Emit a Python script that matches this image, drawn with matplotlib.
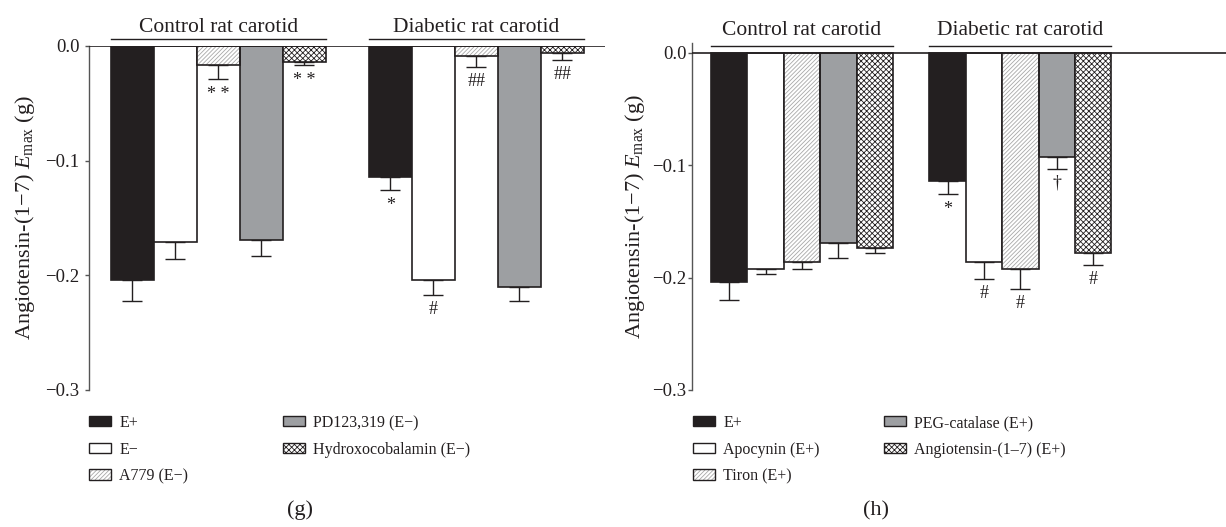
import matplotlib
matplotlib.use("Agg")
import matplotlib.pyplot as plt
from matplotlib.patches import Patch
import numpy as np

plt.rcParams['font.family'] = ['Liberation Serif', 'DejaVu Serif']
plt.rcParams['mathtext.fontset'] = 'custom'
plt.rcParams['mathtext.rm'] = 'Liberation Serif'
plt.rcParams['mathtext.it'] = 'Liberation Serif:italic'
plt.rcParams['hatch.linewidth'] = 0.6

# ---------------- data ----------------
groups = ["Control rat carotid", "Diabetic rat carotid"]

g_labels = ["E+", "E\u2212", "A779 (E\u2212)", "PD123,319 (E\u2212)", "Hydroxocobalamin (E\u2212)"]
g_control = [-0.204, -0.171, -0.017, -0.169, -0.014]
g_control_err = [0.018, 0.015, 0.012, 0.014, 0.003]
g_diabetic = [-0.114, -0.204, -0.009, -0.210, -0.006]
g_diabetic_err = [0.012, 0.013, 0.009, 0.0125, 0.006]
g_control_sig = ["", "", "* *", "", "* *"]
g_diabetic_sig = ["*", "#", "##", "", "##"]

h_labels = ["E+", "Apocynin (E+)", "Tiron (E+)", "PEG-catalase (E+)", "Angiotensin-(1\u20137) (E+)"]
h_control = [-0.204, -0.192, -0.186, -0.169, -0.174]
h_control_err = [0.016, 0.005, 0.006, 0.014, 0.004]
h_diabetic = [-0.114, -0.186, -0.192, -0.093, -0.178]
h_diabetic_err = [0.012, 0.015, 0.018, 0.010, 0.011]
h_control_sig = ["", "", "", "", ""]
h_diabetic_sig = ["*", "#", "#", "\u2020", "#"]

yticks = [0.0, -0.1, -0.2, -0.3]
ytick_labels = ["0.0", "\u22120.1", "\u22120.2", "\u22120.3"]

# ---------------- styles ----------------
facecolors = ['#231f20', 'white', 'white', '#9d9fa2', 'white']
hatches = [None, None, '////////', None, 'xxxxxx']
hatchcolors = ['#231f20', '#231f20', '#a8a8a8', '#231f20', '#231f20']
outline = '#231f20'

W, H = 1226, 527
fig = plt.figure(figsize=(W / 100, H / 100), dpi=100)


def px_ax(x0, y0, x1, y1):
    return fig.add_axes([x0 / W, 1 - y1 / H, (x1 - x0) / W, (y1 - y0) / H])


def make_handle(i):
    base = Patch(facecolor=facecolors[i], edgecolor=hatchcolors[i] if hatches[i] else outline,
                 hatch=hatches[i], linewidth=0 if hatches[i] else 1.0)
    if hatches[i]:
        edge = Patch(facecolor='none', edgecolor=outline, linewidth=1.0)
        return (base, edge)
    return base


def draw_panel(ax, labels, series, errs, sigs, ylim_top, xlim, lab_x, leg_cols_px,
               leg_top_px, grp_text_y, tick_pad):
    ax.set_xlim(*xlim)
    ax.set_ylim(-0.3, ylim_top)
    for gi, (vals, es, ss) in enumerate(zip(series, errs, sigs)):
        xs = np.arange(len(vals)) + gi * 6
        for i, (x, v, e, s) in enumerate(zip(xs, vals, es, ss)):
            if hatches[i]:
                ax.bar(x, v, width=1.0, color=facecolors[i], hatch=hatches[i],
                       edgecolor=hatchcolors[i], linewidth=0, zorder=2)
                ax.bar(x, v, width=1.0, fill=False, edgecolor=outline, linewidth=1.2, zorder=3)
            else:
                ax.bar(x, v, width=1.0, color=facecolors[i], edgecolor=outline,
                       linewidth=1.2, zorder=2)
            ax.errorbar(x, v, yerr=[[e], [0]], fmt='none', ecolor='#231f20',
                        elinewidth=1.0, capsize=7.5, capthick=1.0, zorder=1)
            if s:
                ax.annotate(s, xy=(x, v - e), xytext=(0, -4.5), textcoords='offset points',
                            ha='center', va='top', fontsize=13, color='#231f20')
        # group line and label
        x0, x1 = xs[0] - 0.5, xs[-1] + 0.5
        ax.plot([x0, x1], [0.006, 0.006], color='#231f20', lw=1.0, clip_on=False)
        ax.text((x0 + x1) / 2, grp_text_y, groups[gi], ha='center', va='baseline',
                fontsize=15.5, color='#231f20', clip_on=False)
    ax.axhline(0, color='#231f20', lw=1.2, zorder=4)
    for sp in ['top', 'right', 'bottom']:
        ax.spines[sp].set_visible(False)
    ax.spines['left'].set_color('#555555')
    ax.spines['left'].set_linewidth(1.0)
    ax.set_xticks([])
    ax.set_yticks(yticks)
    ax.set_yticklabels(ytick_labels, fontsize=13.5)
    ax.tick_params(axis='y', direction='out', length=3, width=1.0, pad=tick_pad,
                   color='#555555', labelcolor='#231f20')
    ax.set_ylabel("Angiotensin-(1\u22127) $E_{\\mathrm{max}}$ (g)", fontsize=16,
                  color='#231f20')
    ax.yaxis.set_label_coords(lab_x, 0.5)

    handles = [make_handle(i) for i in range(len(labels))]
    cols = [(handles[:3], labels[:3]), (handles[3:], labels[3:])]
    for (hs, ls), cx in zip(cols, leg_cols_px):
        leg = fig.legend(hs, ls, loc='upper left', bbox_to_anchor=(cx / W, 1 - leg_top_px / H),
                         frameon=False, fontsize=11.5, handlelength=1.4, handleheight=0.6,
                         handletextpad=0.5, labelspacing=0.66, borderpad=0, borderaxespad=0)
        for t in leg.get_texts():
            t.set_color('#231f20')


ax_g = px_ax(89, 46, 605, 390)
draw_panel(ax_g, g_labels, [g_control, g_diabetic], [g_control_err, g_diabetic_err],
           [g_control_sig, g_diabetic_sig], 0.0, (-1.01, 10.99), -0.101, [89, 283], 415,
           0.0125, 4)

ax_h = px_ax(692, 42.6, 1226, 390)
draw_panel(ax_h, h_labels, [h_control, h_diabetic], [h_control_err, h_diabetic_err],
           [h_control_sig, h_diabetic_sig], 0.009, (-1.02, 13.65), -0.084, [693, 884], 415,
           0.0157, 1)

fig.text(300 / W, 1 - 510 / H, "(g)", ha='center', va='center', fontsize=16, color='#231f20')
fig.text(876 / W, 1 - 511 / H, "(h)", ha='center', va='center', fontsize=16, color='#231f20')

fig.savefig("out.png", dpi=100)
